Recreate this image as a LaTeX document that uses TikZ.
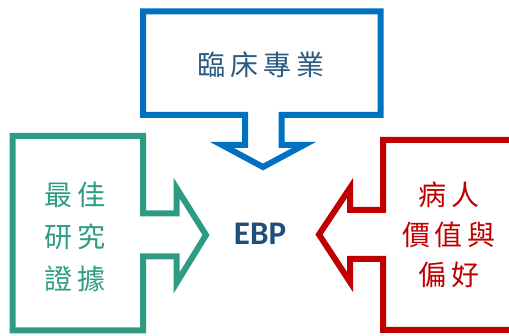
\documentclass[tikz,border=0pt]{standalone}
\usepackage{fontspec}
\newfontfamily\cjk{Noto Sans CJK TC}
\newfontfamily\ebpfont{Carlito}
\definecolor{cblue}{HTML}{0070C0}
\definecolor{cgreen}{HTML}{2E9C84}
\definecolor{cred}{HTML}{C00000}
\definecolor{tblue}{HTML}{2A5A85}
\definecolor{ebpblue}{HTML}{1F4E79}
\newcommand{\gp}{\hspace{5pt}}
\begin{document}
\begin{tikzpicture}[x=1pt,y=-1pt,
  callout/.style={line width=6pt, line join=miter, miter limit=10},
  cjktext/.style={font=\cjk\fontsize{28}{44}\selectfont, align=center, inner sep=0pt}]
\useasboundingbox (0,0) rectangle (509,336);
\clip (0,0) rectangle (509,336);
% top (blue)
\draw[callout, cblue] (143,11.5) -- (380.5,11.5) -- (380.5,115) -- (281.5,115) -- (281.5,145)
  -- (304,145) -- (263,167) -- (222,145) -- (245,145) -- (245,115) -- (143,115) -- cycle;
% left (green)
\draw[callout, cgreen] (12.5,136) -- (143,136) -- (143,213.5) -- (176.5,213.5) -- (176.5,188)
  -- (206,235) -- (176.5,283) -- (176.5,256.5) -- (143,256.5) -- (143,330.5) -- (12.5,330.5) -- cycle;
% right (red)
\draw[callout, cred] (530,140) -- (383,140) -- (383,210) -- (350,210) -- (350,188)
  -- (319,234.5) -- (350,282) -- (350,259) -- (383,259) -- (383,330) -- (530,330);
% texts
\node[cjktext, text=tblue] (top) at (261,65) {臨\gp 床\gp 專\gp 業};
\node[cjktext, text=cgreen] (left) at (75,237) {最\gp 佳\\[-2pt] 研\gp 究\\[-2pt] 證\gp 據};
\node[cjktext, text=cred] (right) at (449,235) {病\gp 人\\[-4pt] 價\gp 值\gp 與\\[-4pt] 偏\gp 好};
\node[font=\ebpfont\bfseries\fontsize{33}{36}\selectfont, text=ebpblue, inner sep=0pt] (ebp) at (260,234) {EBP};
\end{tikzpicture}
\end{document}
